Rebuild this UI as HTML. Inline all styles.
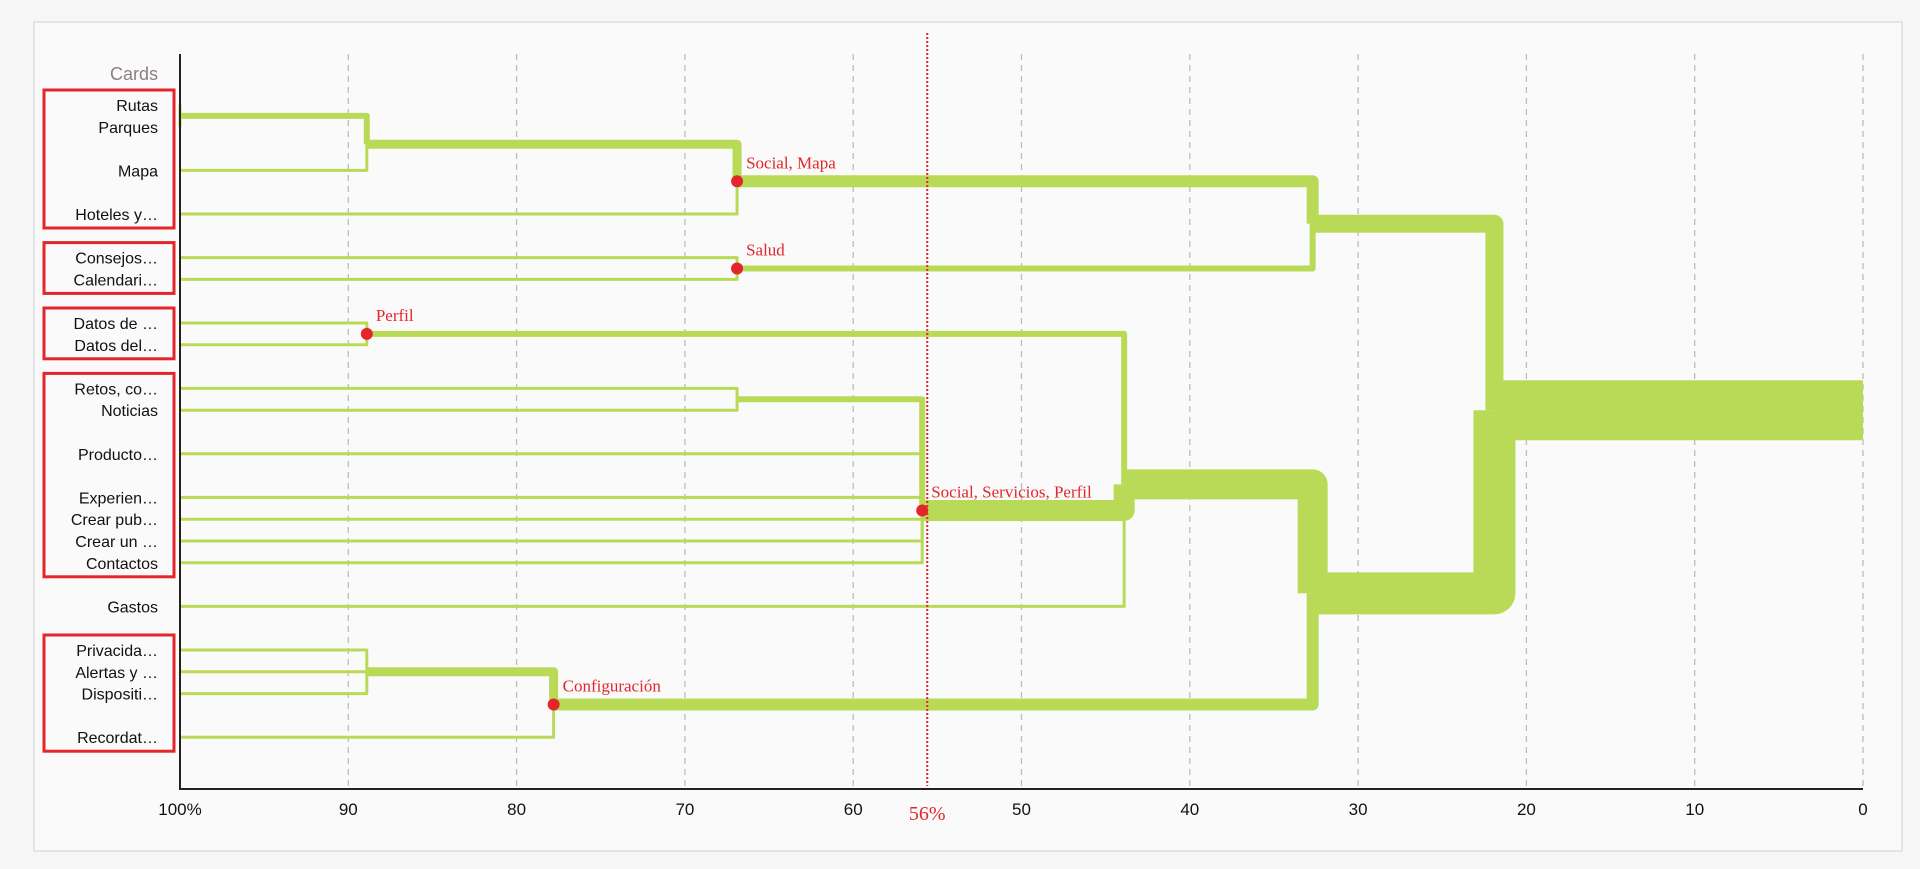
<!DOCTYPE html>
<html><head><meta charset="utf-8"><style>
html,body{margin:0;padding:0;background:#f6f6f6;}
svg{display:block;}
</style></head><body>
<svg id="chart" width="1920" height="869" xmlns="http://www.w3.org/2000/svg">
<rect x="34" y="22" width="1868" height="829" fill="#fafafa" stroke="#e4e4e4" stroke-width="2"/>
<g id="grid"></g>
<g id="boxes"></g>
<g id="links"></g>
<g id="labels"></g>
<g id="axis"></g>
</svg>
<script>
const NS='http://www.w3.org/2000/svg';
// ---- data ----
const leafNames=['Rutas','Parques','Mapa','Hoteles y…','Consejos…','Calendari…','Datos de …','Datos del…','Retos, co…','Noticias','Producto…','Experien…','Crear pub…','Crear un …','Contactos','Gastos','Privacida…','Alertas y …','Dispositi…','Recordat…'];
const leafRows=[0,1,3,5,7,8,10,11,13,14,16,18,19,20,21,23,25,26,27,29];
const clusterIds=['c1','c2','c3','c4','c5','c6','c7','c8','c9','c10','c11','c12','root'];
const clusterChildren=[['L0','L1'],['c1','L2'],['c2','L3'],['L4','L5'],['c3','c4'],['L6','L7'],['L8','L9'],['c7','L10','L11','L12','L13','L14'],['c6','c8','L15'],['L16','L17','L18'],['c10','L19'],['c9','c11'],['c5','c12']];
const clusterSim=[100,88.9,66.9,66.9,32.7,88.9,66.9,55.9,43.9,88.9,77.8,32.7,21.9];
const clusterRow=[0.5,1.8,3.5,7.5,5.45,10.5,13.5,18.6,17.4,26,27.5,22.4,14];
const clusterNames=['','','Social, Mapa','Salud','','Perfil','','Social, Servicios, Perfil','','','Configuración','',''];
const tickValues=[100,90,80,70,60,50,40,30,20,10,0];
const tickLabels=['100%','90','80','70','60','50','40','30','20','10','0'];
const cutValue=55.6, cutLabel='56%';
const boxRanges=[[0,5],[7,8],[10,11],[13,21],[25,29]];
// ---- scales ----
const X=v=>180+(100-v)*16.83;
const Y=r=>105+r*21.8;
const G='#b9da56', RED='#e3262b';
function el(tag,attrs,parent){const e=document.createElementNS(NS,tag);for(const k in attrs)e.setAttribute(k,attrs[k]);parent.appendChild(e);return e;}
const grid=document.getElementById('grid'),boxes=document.getElementById('boxes'),links=document.getElementById('links'),labels=document.getElementById('labels'),axis=document.getElementById('axis');
tickValues.forEach((v,i)=>{
  if(v!==100){const l=el('line',{x1:X(v),x2:X(v),y1:54,y2:789,stroke:'#bdbdbd','stroke-width':1.3,'stroke-dasharray':'6,5'},grid);
  
  }
  const t=el('text',{x:X(v),y:815,'text-anchor':'middle','font-family':'Liberation Sans, sans-serif','font-size':17,fill:'#111'},axis);
  t.textContent=tickLabels[i];
  
  
});
const a1=el('line',{x1:180,x2:180,y1:54,y2:790,stroke:'#222','stroke-width':2},axis);


const a2=el('line',{x1:179,x2:1863,y1:789,y2:789,stroke:'#222','stroke-width':2},axis);


// nodes
const nodes={};
leafNames.forEach((n,i)=>{nodes['L'+i]={x:100,y:Y(leafRows[i]),n:1};});
clusterIds.forEach((id,i)=>{
  const ch=clusterChildren[i];let n=0;ch.forEach(c=>n+=nodes[c].n);
  nodes[id]={x:clusterSim[i],y:Y(clusterRow[i]),n:n};
});
clusterIds.forEach((id,i)=>{
  const p=nodes[id];
  clusterChildren[i].forEach(c=>{
    const ch=nodes[c];const w=Math.max(2.6,ch.n*3);
    const pa=el('path',{d:`M${X(ch.x)+1},${ch.y} H${X(p.x)} V${p.y}`,fill:'none',stroke:G,'stroke-width':w,'stroke-linejoin':'round'},links);
    
    
  });
});
const r=nodes['root'];
const rl=el('line',{x1:X(r.x),x2:X(0),y1:r.y,y2:r.y,stroke:G,'stroke-width':r.n*3},links);


// cut line
const cl=el('line',{x1:X(cutValue),x2:X(cutValue),y1:33,y2:786,stroke:RED,'stroke-width':2,'stroke-dasharray':'2,2'},links);


const ct=el('text',{x:X(cutValue),y:820,'text-anchor':'middle','font-family':'Liberation Serif, serif','font-size':20,fill:RED},axis);
ct.textContent=cutLabel;


// cluster labels & dots
clusterIds.forEach((id,i)=>{
  if(!clusterNames[i])return;const p=nodes[id];
  const d=el('circle',{cx:X(p.x),cy:p.y,r:6,fill:RED},labels);
  
  
  const t=el('text',{x:X(p.x)+9,y:p.y-13,'font-family':'Liberation Serif, serif','font-size':17,fill:RED},labels);
  t.textContent=clusterNames[i];
  
  
});
// leaf labels
leafNames.forEach((n,i)=>{
  const t=el('text',{x:158,y:Y(leafRows[i])+6,'text-anchor':'end','font-family':'Liberation Sans, sans-serif','font-size':16,fill:'#111'},labels);
  t.textContent=n;
  
  
});
const cards=el('text',{x:158,y:80,'text-anchor':'end','font-family':'Liberation Sans, sans-serif','font-size':18,fill:'#8a8080'},labels);
cards.textContent='Cards';


boxRanges.forEach(b=>{
  const bx=el('rect',{x:44,y:Y(b[0])-15,width:130,height:Y(b[1])-Y(b[0])+29,fill:'none',stroke:RED,'stroke-width':3},boxes);
  
  
});
</script>
</body></html>
